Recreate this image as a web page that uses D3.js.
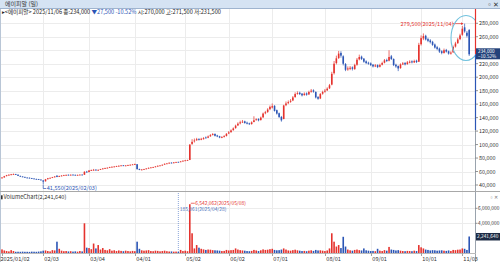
<!DOCTYPE html>
<html>
<head>
<meta charset="utf-8">
<script src="https://cdn.jsdelivr.net/npm/d3@7"></script>
<style>
  body { margin: 0; background: #fff; }
  svg { display: block; font-family: "Noto Sans CJK KR", "DejaVu Sans", sans-serif; }
</style>
</head>
<body>
<svg width="500" height="262"></svg>
<script>
// trading days per month (2025)
const tradingDays = [
  "01:2,3,6,7,8,9,10,13,14,15,16,17,20,21,22,23,24,31",
  "02:3,4,5,6,7,10,11,12,13,14,17,18,19,20,21,24,25,26,27,28",
  "03:4,5,6,7,10,11,12,13,14,17,18,19,20,21,24,25,26,27,28,31",
  "04:1,2,3,4,7,8,9,10,11,14,15,16,17,18,21,22,23,24,25,28,29,30",
  "05:2,7,8,9,12,13,14,15,16,19,20,21,22,23,26,27,28,29,30",
  "06:2,4,5,9,10,11,12,13,16,17,18,19,20,23,24,25,26,27,30",
  "07:1,2,3,4,7,8,9,10,11,14,15,16,17,18,21,22,23,24,25,28,29,30,31",
  "08:1,4,5,6,7,8,11,12,13,14,18,19,20,21,22,25,26,27,28,29",
  "09:1,2,3,4,5,8,9,10,11,12,15,16,17,18,19,22,23,24,25,26,29,30",
  "10:1,2,10,13,14,15,16,17,20,21,22,23,24,27,28,29,30,31",
  "11:3,4,5,6"
];

const opens = [
  50500,51200,53200,54600,55000,55600,56200,55300,53500,52600,
  52000,51000,50800,50200,49600,49000,48700,48100,46800,45500,
  48600,50200,50800,51600,53800,52200,53200,54300,54400,55200,
  54700,55300,55100,54500,55100,55400,55200,59800,59200,61400,
  61800,62800,61700,62600,63600,64800,65200,65500,66800,67200,
  67300,68200,68600,69200,68300,69000,69800,70200,70300,70800,
  63800,62300,63100,63800,64400,65800,66200,66800,67600,68900,
  69200,70200,71800,72200,73200,72600,73800,74300,74200,75200,
  76200,76400,77200,101000,105000,106500,108200,107200,108000,110500,
  110200,112300,114200,115800,113500,112300,110200,111200,112800,116500,
  118500,121500,124500,128500,131500,133500,134500,132500,131500,130500,
  133500,136500,138000,136500,140500,146500,148500,152500,155000,157500,
  151000,146500,141000,138000,158500,161500,163500,165500,170500,175500,
  177000,175500,173500,176000,174500,178500,180500,178000,170500,168500,
  175500,178500,180500,183500,189000,206000,221000,228500,236000,231000,
  219500,211500,212500,214500,212000,218500,226500,230500,227500,223500,
  221500,220500,218500,216000,218000,215500,218500,221500,225500,224500,
  231000,227000,218500,216500,213500,219000,221000,219500,221500,223500,
  222000,224500,223000,249000,257500,261500,256500,254500,252500,248500,
  244500,242500,238500,236000,240500,238500,235000,237000,245500,250500,
  256500,263000,274000,266000,270000
];
const highs = [
  51800,53500,55000,55900,56400,57000,56600,55600,53900,53000,
  52300,51400,51100,50500,49900,49400,49000,48300,47000,49000,
  50500,51200,52000,53100,54500,53800,54500,55100,55500,55600,
  55700,55800,55400,55400,55800,55700,60500,61000,62300,62900,
  63800,63200,63000,64000,65000,65700,66200,67000,67600,68000,
  68500,69100,69500,69600,69400,70100,70600,71200,71800,71000,
  64200,63500,64000,64900,65900,66600,67000,68000,69000,69600,
  70500,72000,72700,73500,73600,74000,74500,74600,75400,76500,
  77200,77500,100100,108000,109000,110000,109500,110000,111000,112000,
  113500,115500,117000,116500,114500,113000,112500,114000,117000,120000,
  122500,125500,129500,133000,135500,136500,135500,134000,132500,134500,
  142000,139000,139000,141500,147500,150000,154000,158000,161000,158500,
  152000,147500,142500,159000,164000,165500,167500,172000,177500,179000,
  178500,176500,177500,177500,180000,182500,182000,179000,172000,176500,
  180000,182500,185000,190000,208000,224000,232000,239000,238500,232500,
  221000,216000,216500,216000,220000,228500,233500,232000,228500,225000,
  223000,222000,219500,219500,219000,220000,223000,227000,227500,240000,
  233000,228000,220000,217500,220500,222500,222500,224000,225000,225000,
  226000,226000,251000,262000,265000,263000,258500,256500,254000,250000,
  246500,244000,240000,242500,242000,239500,238500,247000,252500,258500,
  264500,276000,279500,268500,271500
];
const lows = [
  50000,51000,52800,54200,54700,55200,55000,53300,52200,51700,
  50900,50300,49800,49200,48700,48300,47600,46700,41550,45200,
  48200,49800,50400,51300,51600,51900,52900,53900,54100,54300,
  54400,54700,54200,54200,54800,54600,55000,58400,58900,61000,
  61400,61300,61400,62300,63300,64300,64900,65200,66400,66800,
  67000,67800,68300,68100,68000,68700,69400,69900,70000,63000,
  62000,62000,62800,63500,64200,65400,65900,66500,67300,68500,
  68900,70000,71400,71900,72100,72300,73400,73700,73900,74900,
  75800,76000,77000,99500,103000,105500,106000,106500,107500,109000,
  109500,111500,113500,112000,111000,109500,109500,110500,112000,115500,
  117500,120500,123500,127500,130000,132000,131000,130000,129000,129500,
  133000,135500,134500,135500,139500,145000,147000,151000,153500,149000,
  144500,139500,134000,137500,157000,160000,162000,164500,169500,174000,
  173500,171500,172500,172500,173500,177000,177000,168500,166500,167500,
  174000,177000,179500,182500,188000,204000,219000,227000,229000,217500,
  209000,209500,210500,210000,211000,217000,225000,225500,221500,219500,
  218500,216500,214500,215000,213500,214500,217500,220500,222500,223500,
  225500,216500,214000,209000,212500,218000,217500,218500,220500,220500,
  221000,221000,222500,247000,255000,254500,252000,250000,246500,242500,
  240000,236000,234000,235000,236500,233500,233500,236000,244000,249500,
  255000,261500,266000,259000,231500
];
const closes = [
  51000,53000,54500,55200,55800,56000,55400,53600,52500,52000,
  51200,50600,50100,49500,49000,48600,48000,47000,45000,48500,
  50000,50600,51500,52600,52000,53400,54000,54500,55000,54700,
  55200,55000,54600,55000,55300,55000,59500,59000,61500,62000,
  62600,61800,62500,63500,64500,65000,65600,66500,67000,67400,
  68000,68500,69000,68400,69000,69600,70000,70500,71000,63500,
  62500,63000,63600,64500,65500,66000,66500,67500,68500,69000,
  70000,71500,72000,73000,72500,73500,74000,74000,75000,76000,
  76500,77000,100100,104000,106000,108000,107000,108500,109500,110000,
  112000,114000,115500,113000,112000,110500,111000,112500,116000,118000,
  121000,124000,128000,131000,133000,134000,132000,131000,130500,133000,
  136000,137500,136000,140000,146000,148000,152000,156000,157000,150000,
  146000,141000,136000,158000,161000,163000,165000,170000,175000,176500,
  175000,173000,175500,174000,178000,180000,178500,170000,168000,175000,
  178000,180000,183000,188000,205000,220000,228000,235000,232000,220000,
  211000,213000,214000,212500,218000,226000,230000,227000,223000,221000,
  220000,218000,216000,217500,215000,218000,221000,225000,224000,230000,
  227000,218000,216000,213000,219000,220500,219000,222000,223000,222000,
  224000,222500,248000,258000,261000,256000,254000,252000,248000,244000,
  242000,238000,236000,240000,238000,235000,236500,245000,250000,256000,
  262000,272000,268000,261500,234000
];
const volumes = [
  520000,380000,300000,250000,420000,300000,200000,210000,200000,220000,
  200000,200000,190000,220000,210000,200000,230000,260000,350000,380000,
  300000,250000,420000,380000,1550000,600000,350000,280000,300000,250000,
  280000,230000,260000,220000,300000,250000,4000000,750000,700000,550000,
  1300000,650000,1100000,500000,700000,450000,400000,550000,350000,400000,
  300000,380000,320000,280000,350000,300000,260000,320000,280000,1550000,
  600000,400000,350000,380000,420000,300000,280000,350000,320000,260000,
  300000,350000,280000,240000,250000,220000,230000,185061,450000,300000,
  350000,280000,6542062,2670000,650000,1100000,750000,600000,520000,450000,
  500000,480000,420000,400000,380000,350000,300000,320000,450000,380000,
  420000,450000,650000,500000,420000,380000,350000,300000,280000,320000,
  450000,380000,300000,400000,520000,450000,480000,550000,600000,450000,
  400000,420000,500000,650000,500000,380000,350000,420000,480000,400000,
  350000,300000,320000,280000,350000,400000,320000,450000,380000,400000,
  350000,300000,380000,650000,2670000,1550000,900000,1100000,700000,2200000,
  900000,500000,400000,350000,450000,500000,420000,380000,650000,400000,
  350000,300000,320000,280000,600000,350000,300000,420000,350000,850000,
  500000,450000,380000,420000,350000,300000,280000,320000,300000,280000,
  350000,300000,1100000,800000,650000,500000,450000,380000,420000,400000,
  350000,380000,400000,350000,320000,380000,300000,450000,420000,480000,
  500000,650000,600000,450000,2241640
];

const priceTicks = [40000,60000,80000,100000,120000,140000,160000,180000,200000,220000,240000,260000,280000];
const volTicks = [4000000, 6000000];

const RED = "#e5322d", BLUE = "#2b55b5", GRID = "#ececec";

const dates = tradingDays.flatMap(s => {
  const [m, list] = s.split(":");
  return list.split(",").map(d => `2025/${m}/${d.padStart(2, "0")}`);
});
const data = dates.map((d, i) => ({
  date: d, o: opens[i], h: highs[i], l: lows[i], c: closes[i], v: volumes[i]
}));

const svg = d3.select("svg");
const fmt = d3.format(",");

const x = d3.scalePoint().domain(dates).range([2, 469.2]);
const y = d3.scaleLinear().domain([40000, 280000]).range([185, 23.3]);
const yv = d3.scaleLinear().domain([0, 6000000]).range([253.3, 208.3]);
const bw = 1.6;
const col = d => d.c >= d.o ? RED : BLUE;

// title bar
svg.append("rect").attr("x", 0).attr("y", 0).attr("width", 500).attr("height", 8)
  .attr("fill", "#d5e3f3");
svg.append("line").attr("x1", 0).attr("x2", 500).attr("y1", 8.5).attr("y2", 8.5)
  .attr("stroke", "#9fb4cf");
svg.append("text").attr("x", 5).attr("y", 6.3).attr("font-size", 6).attr("fill", "#333")
  .text("에이피알 (일)");
svg.append("text").attr("x", 486).attr("y", 6.5).attr("font-size", 7).attr("fill", "#333").text("▫✕");
svg.append("line").attr("x1", 0.5).attr("x2", 0.5).attr("y1", 9).attr("y2", 262).attr("stroke", "#b9c6d6");

// month-start positions
const monthStarts = data.filter((d, i) => i === 0 || d.date.slice(5, 7) !== data[i - 1].date.slice(5, 7));

// grid
const grid = svg.append("g");
grid.selectAll(".hg").data(priceTicks).join("line")
  .attr("x1", 1).attr("x2", 475).attr("y1", d => Math.round(y(d)) + 0.5).attr("y2", d => Math.round(y(d)) + 0.5)
  .attr("stroke", GRID);
grid.selectAll(".vg").data(monthStarts.slice(1)).join("line")
  .attr("x1", d => Math.round(x(d.date)) + 0.5).attr("x2", d => Math.round(x(d.date)) + 0.5)
  .attr("y1", 9).attr("y2", 253)
  .attr("stroke", GRID);
grid.selectAll(".vhg").data(volTicks).join("line")
  .attr("x1", 1).attr("x2", 475).attr("y1", d => Math.round(yv(d)) + 0.5).attr("y2", d => Math.round(yv(d)) + 0.5)
  .attr("stroke", GRID);

// info line
const info = svg.append("text").attr("x", 2).attr("y", 14).attr("font-size", 5.6).attr("fill", "#222");
info.append("tspan").text("▸<에이피알> 2025/11/06 종:234,000 ");
info.append("tspan").attr("fill", BLUE).text("▼27,500  -10.52%");
info.append("tspan").text(" 시:270,000 고:271,500 저:231,500");
svg.append("text").attr("x", 489).attr("y", 15).attr("font-size", 5).attr("fill", "#777").text("▫✕");

// candles
const cg = svg.append("g");
cg.selectAll("line").data(data).join("line")
  .attr("x1", d => x(d.date)).attr("x2", d => x(d.date))
  .attr("y1", d => y(d.h)).attr("y2", d => y(d.l))
  .attr("stroke", col).attr("stroke-width", 0.7);
cg.selectAll("rect").data(data).join("rect")
  .attr("x", d => x(d.date) - bw / 2)
  .attr("y", d => y(Math.max(d.o, d.c)))
  .attr("width", bw)
  .attr("height", d => Math.max(0.8, Math.abs(y(d.o) - y(d.c))))
  .attr("fill", col);

// high / low markers
const hi = data[d3.maxIndex(data, d => d.h)];
const lo = data[d3.minIndex(data, d => d.l)];
svg.append("line").attr("x1", x(hi.date) - 12).attr("x2", x(hi.date) - 1.5)
  .attr("y1", y(hi.h)).attr("y2", y(hi.h)).attr("stroke", RED).attr("stroke-width", 0.7);
svg.append("path").attr("d", `M${x(hi.date) - 1.5},${y(hi.h)} l-2,-1.3 v2.6 z`).attr("fill", RED);
svg.append("text").attr("x", x(hi.date) - 11).attr("y", y(hi.h) + 2).attr("text-anchor", "end")
  .attr("font-size", 5.6).attr("fill", RED).text(`${fmt(hi.h)}(${hi.date})`);
svg.append("path").attr("d", `M${x(lo.date)},${y(lo.l) + 0.5} V188.5 H${x(lo.date) + 3}`)
  .attr("fill", "none").attr("stroke", BLUE).attr("stroke-width", 0.7);
svg.append("text").attr("x", x(lo.date) + 3.5).attr("y", 190.3)
  .attr("font-size", 5.6).attr("fill", BLUE).text(`${fmt(lo.l)}(${lo.date})`);

// highlight ellipse
svg.append("ellipse").attr("cx", 466).attr("cy", 38).attr("rx", 15).attr("ry", 22.5)
  .attr("fill", "none").attr("stroke", "#71c2de").attr("stroke-width", 1.1);

// price axis
svg.append("rect").attr("x", 476).attr("y", 9).attr("width", 24).attr("height", 182).attr("fill", "#fff");
const last = data[data.length - 1];
const ly = y(last.c);
svg.append("line").attr("x1", 475.5).attr("x2", 475.5).attr("y1", 9).attr("y2", ly)
  .attr("stroke", RED).attr("stroke-width", 1.2);
svg.append("line").attr("x1", 475.5).attr("x2", 475.5).attr("y1", ly).attr("y2", 130)
  .attr("stroke", BLUE).attr("stroke-width", 1.2);
svg.append("line").attr("x1", 475.5).attr("x2", 475.5).attr("y1", 130).attr("y2", 262)
  .attr("stroke", "#9aa3ad");
const pa = svg.append("g").selectAll("g").data(priceTicks.filter(t => Math.abs(y(t) - ly) > 7)).join("g")
  .attr("transform", d => `translate(475.5,${y(d)})`);
pa.append("line").attr("x2", 2.5).attr("stroke", "#666").attr("stroke-width", 0.7);
pa.append("text").attr("x", 3.5).attr("y", 2).attr("font-size", 5.4).attr("fill", "#333").text(d => fmt(d));

// last price tag
svg.append("rect").attr("x", 476).attr("y", ly - 6).attr("width", 24).attr("height", 11).attr("fill", "#23427a");
svg.append("text").attr("x", 478).attr("y", ly - 1.4).attr("font-size", 4.6).attr("fill", "#fff").text(fmt(last.c));
svg.append("text").attr("x", 478).attr("y", ly + 3.8).attr("font-size", 4.6).attr("fill", "#fff")
  .text(d3.format(".2f")((last.c - closes[closes.length - 2]) / closes[closes.length - 2] * 100) + "%");

// pane separator
svg.append("line").attr("x1", 0).attr("x2", 500).attr("y1", 191.5).attr("y2", 191.5).attr("stroke", "#a8a8a8");

// volume pane
svg.append("rect").attr("x", 1).attr("y", 195.3).attr("width", 1.6).attr("height", 4).attr("fill", "#333");
svg.append("text").attr("x", 3.5).attr("y", 199.2).attr("font-size", 5.6).attr("fill", "#333")
  .text(`VolumeChart(${fmt(last.v)})`);
svg.append("text").attr("x", 489).attr("y", 199).attr("font-size", 5).attr("fill", "#777").text("▫✕");

svg.append("g").selectAll("rect").data(data).join("rect")
  .attr("x", d => x(d.date) - bw / 2)
  .attr("y", d => yv(d.v))
  .attr("width", bw)
  .attr("height", d => yv(0) - yv(d.v))
  .attr("fill", col);

const vmax = data[d3.maxIndex(data, d => d.v)];
const vmin = data[d3.minIndex(data, d => d.v)];
svg.append("line").attr("x1", x(vmin.date)).attr("x2", x(vmin.date)).attr("y1", 193).attr("y2", 253)
  .attr("stroke", "#5a7fc8").attr("stroke-width", 0.7).attr("stroke-dasharray", "1,1");
svg.append("line").attr("x1", x(vmax.date) + 1).attr("x2", x(vmax.date) + 5).attr("y1", yv(vmax.v) - 1).attr("y2", yv(vmax.v) - 1)
  .attr("stroke", RED).attr("stroke-width", 0.7);
svg.append("text").attr("x", x(vmax.date) + 5.5).attr("y", yv(vmax.v) + 0.4)
  .attr("font-size", 4.9).attr("fill", RED).text(`${fmt(vmax.v)}(${vmax.date})`);
svg.append("text").attr("x", x(vmin.date) + 1.5).attr("y", 210.6)
  .attr("font-size", 4.9).attr("fill", "#4a6fb8").text(`${fmt(vmin.v)}(${vmin.date})`);

const va = svg.append("g").selectAll("g").data(volTicks).join("g")
  .attr("transform", d => `translate(475.5,${yv(d)})`);
va.append("line").attr("x2", 2).attr("stroke", "#666").attr("stroke-width", 0.7);
va.append("text").attr("x", 2.5).attr("y", 1.8).attr("font-size", 4.8).attr("fill", "#333").text(d => fmt(d));

const lvy = yv(last.v);
svg.append("rect").attr("x", 476).attr("y", lvy - 3.5).attr("width", 24).attr("height", 7.5).attr("fill", "#1d2b45");
svg.append("text").attr("x", 477).attr("y", lvy + 1.9).attr("font-size", 4.8).attr("fill", "#fff").text(fmt(last.v));

// x axis
svg.append("line").attr("x1", 0).attr("x2", 476).attr("y1", 253.5).attr("y2", 253.5).attr("stroke", "#bbb");
const xa = svg.append("g").selectAll("g").data(monthStarts).join("g")
  .attr("transform", d => `translate(${Math.round(x(d.date)) + 0.5},253.5)`);
xa.append("line").attr("y2", 2.5).attr("stroke", "#777").attr("stroke-width", 0.7);
xa.append("text").attr("x", (d, i) => i === 0 ? -2 : 0.8).attr("y", 7.3).attr("font-size", 5.6).attr("fill", "#333")
  .text((d, i) => i === 0 ? d.date : d.date.slice(5));
</script>
</body>
</html>
